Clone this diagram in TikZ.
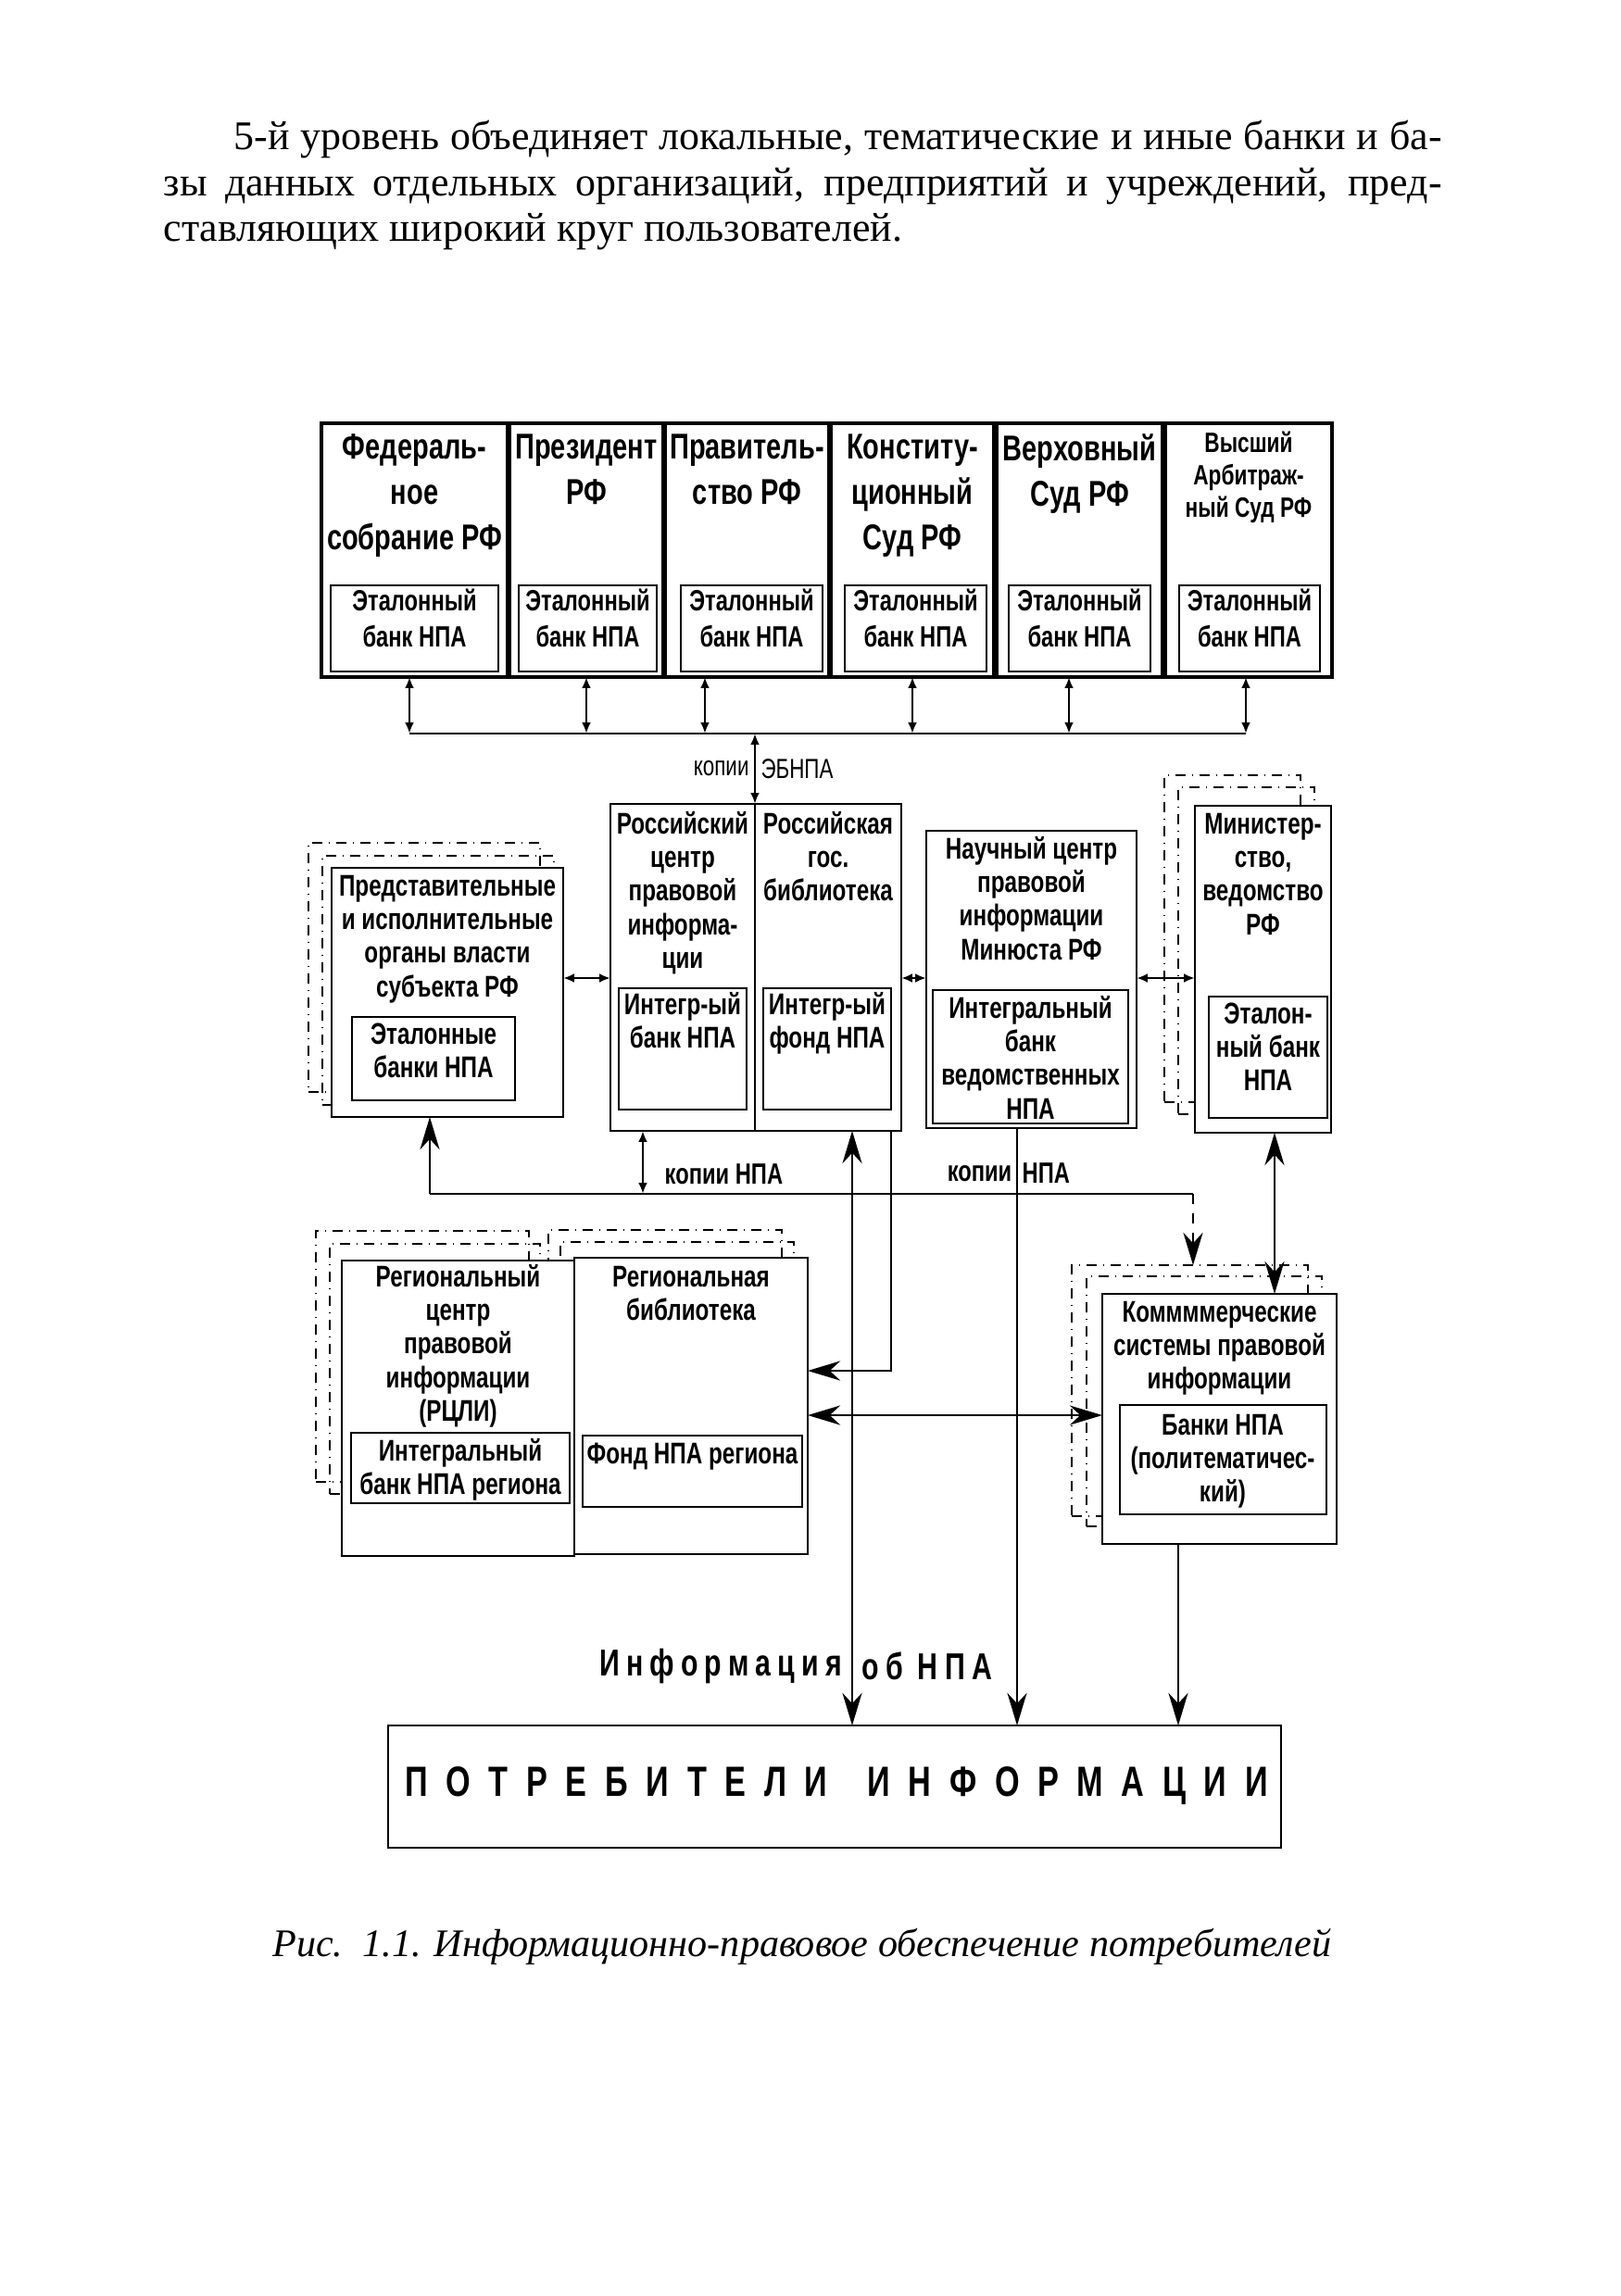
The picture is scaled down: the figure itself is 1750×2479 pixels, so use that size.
\documentclass[tikz,border=0pt]{standalone}
\usepackage{fontspec}
\setmainfont{Liberation Serif}
\newfontfamily\cnfont[FakeStretch=0.75]{Liberation Sans}
\usetikzlibrary{arrows.meta,fit}

\begin{document}
\begin{tikzpicture}[x=0.1mm, y=-0.1mm, >={Latex[length=3.4pt,width=2.8pt]},
  box/.style={draw, line width=0.8pt, fill=white, inner sep=0pt, outer sep=0pt},
  topbox/.style={box, line width=1.1pt},
  shad/.style={draw, line width=0.4pt, dash dot, inner sep=0pt, outer sep=0pt},
  ttl/.style={anchor=north, align=center, inner sep=0pt, font=\cnfont\bfseries\fontsize{11}{13.9}\selectfont},
  ttls/.style={ttl, font=\cnfont\bfseries\fontsize{8.6}{10}\selectfont},
  itxt/.style={ttl, font=\cnfont\bfseries\fontsize{9}{11}\selectfont},
  mtxt/.style={ttl, font=\cnfont\bfseries\fontsize{9.2}{10.3}\selectfont},
  lab/.style={inner sep=1.5pt, font=\cnfont\fontsize{8.5}{10}\selectfont},
  labb/.style={inner sep=0pt, font=\cnfont\bfseries\fontsize{9}{10}\selectfont},
  info/.style={inner sep=0pt, font=\cnfont\bfseries\fontsize{11.5}{13}\selectfont\addfontfeature{LetterSpace=18}},
  body/.style={inner sep=0pt, font=\fontsize{12.5}{14}\selectfont},
  conn/.style={line width=0.7pt},
  big/.style={-{Stealth[length=10pt,width=6pt]}},
  bigboth/.style={{Stealth[length=10pt,width=6pt]}-{Stealth[length=10pt,width=6pt]}}
]
\useasboundingbox (0,0) rectangle (1750,2479);

% Text above the figure
\node[body, anchor=base west] (par1) at (252,161) {\makebox[130.4mm][s]{5-й уровень объединяет локальные, тематические и иные банки и ба-}};
\node[body, anchor=base west] (par2) at (176,211) {\makebox[138mm][s]{зы данных отдельных организаций, предприятий и учреждений, пред-}};
\node[body, anchor=base west] (par3) at (176,260) {ставляющих широкий круг пользователей.};

% Top row: federal bodies
\node[topbox, fit={(347,457) (548,731)}] (fs) {};
\node[topbox, fit={(550,457) (716,731)}] (pr) {};
\node[topbox, fit={(718,457) (895,731)}] (gv) {};
\node[topbox, fit={(897,457) (1073,731)}] (ks) {};
\node[topbox, fit={(1076,457) (1255,731)}] (vs) {};
\node[topbox, fit={(1258,457) (1438,731)}] (as) {};
\node[ttl] (fs-t) at (447.5,461) {\strut Федераль-\\ное\\собрание РФ};
\node[ttl] (pr-t) at (633,461) {\strut Президент\\РФ};
\node[ttl] (gv-t) at (806.5,461) {\strut Правитель-\\ство РФ};
\node[ttl] (ks-t) at (985,461) {\strut Конститу-\\ционный\\Суд РФ};
\node[ttl] (vs-t) at (1165.5,463) {\strut Верховный\\Суд РФ};
\node[ttls] (as-t) at (1348,463) {\strut Высший\\Арбитраж-\\ный Суд РФ};

% reference banks of the top row
\node[box, fit={(357,632) (538,725)}] (fs-b) {};
\node[box, fit={(560,632) (709,725)}] (pr-b) {};
\node[box, fit={(735,632) (888,725)}] (gv-b) {};
\node[box, fit={(912,632) (1065,725)}] (ks-b) {};
\node[box, fit={(1089,632) (1242,725)}] (vs-b) {};
\node[box, fit={(1273,632) (1425,725)}] (as-b) {};
\foreach \b in {fs-b,pr-b,gv-b,ks-b,vs-b,as-b}
  \node[itxt] (\b-t) at (\b.north) {\strut Эталонный\\банк НПА};

% Bus of the top row
\coordinate (busL) at (442,792);
\coordinate (busR) at (1345,792);
\draw[conn] (busL) -- (busR);
\draw[conn,<->] (busL |- fs.south) -- (busL);
\draw[conn,<->] (pr.south) -- (pr.south |- busL);
\draw[conn,<->] (761,0 |- gv.south) -- (761,0 |- busL);
\draw[conn,<->] (ks.south) -- (ks.south |- busL);
\draw[conn,<->] (1154,0 |- vs.south) -- (1154,0 |- busL);
\draw[conn,<->] (busR |- as.south) -- (busR);

% Middle row
\node[shad, fit={(333,910) (583,1179)}] (pred-f1) {};
\node[shad, fit={(348,924) (598,1193)}] (pred-f2) {};
\node[box, fit={(358,937) (608,1206)}] (pred) {};
\node[box, fit={(380,1098) (556,1188)}] (pred-b) {};
\node[mtxt] (pred-t) at (483,941.5) {\strut Представительные\\и исполнительные\\органы власти\\субъекта РФ};
\node[mtxt] (pred-bt) at (468,1101.5) {\strut Эталонные\\банки НПА};

\node[box, fit={(659,868) (815,1221)}] (rc) {};
\node[box, fit={(815,868) (973,1221)}] (rg) {};
\node[box, fit={(668,1067) (806,1198)}] (rc-b) {};
\node[box, fit={(824,1067) (962,1198)}] (rg-b) {};
\node[mtxt] (rc-t) at (737,874.5) {\strut Российский\\центр\\правовой\\информа-\\ции};
\node[mtxt] (rg-t) at (894,874.5) {\strut Российская\\гос.\\библиотека};
\node[mtxt] (rc-bt) at (737,1069.5) {\strut Интегр-ый\\банк НПА};
\node[mtxt] (rg-bt) at (893,1069.5) {\strut Интегр-ый\\фонд НПА};

\node[box, fit={(1000,897) (1227,1218)}] (nc) {};
\node[box, fit={(1007,1069) (1218,1213)}] (nc-b) {};
\node[mtxt] (nc-t) at (1113.5,901.5) {\strut Научный центр\\правовой\\информации\\Минюста РФ};
\node[mtxt] (nc-bt) at (1112.5,1073.5) {\strut Интегральный\\банк\\ведомственных\\НПА};

\node[shad, fit={(1257,837) (1404,1190)}] (mn-f1) {};
\node[shad, fit={(1272,850) (1419,1203)}] (mn-f2) {};
\node[box, fit={(1290,870) (1437,1223)}] (mn) {};
\node[box, fit={(1305,1076) (1433,1207)}] (mn-b) {};
\node[mtxt] (mn-t) at (1363.5,874.5) {\strut Министер-\\ство,\\ведомство\\РФ};
\node[mtxt] (mn-bt) at (1369,1079.5) {\strut Эталон-\\ный банк\\НПА};

% copies of the reference banks
\draw[conn,<->] (rc.north east) -- (rc.north east |- busL)
  node[midway, left, lab] {копии} node[midway, right, lab] {ЭБНПА};
\draw[conn,<->] (pred.east |- 0,1056) -- (rc.west |- 0,1056);
\draw[conn,<->] (rg.east |- 0,1056) -- (nc.west |- 0,1056);
\draw[conn,<->] (nc.east |- 0,1056) -- (mn.west |- 0,1056);

% Lower row
\node[shad, fit={(341,1329) (571,1600)}] (reg-f1) {};
\node[shad, fit={(356,1343) (583,1613)}] (reg-f2) {};
\node[shad, fit={(592,1328) (844,1600)}] (lib-f1) {};
\node[shad, fit={(605,1341) (857,1613)}] (lib-f2) {};
\node[box, fit={(369,1361) (620,1680)}] (reg) {};
\node[box, fit={(620,1358) (872,1678)}] (lib) {};
\node[box, fit={(379,1547) (615,1623)}] (reg-b) {};
\node[box, fit={(629,1550) (866,1627)}] (lib-b) {};
\node[mtxt] (reg-t) at (494.5,1363.5) {\strut Региональный\\центр\\правовой\\информации\\(РЦЛИ)};
\node[mtxt] (reg-bt) at (497,1551.5) {\strut Интегральный\\банк НПА региона};
\node[mtxt] (lib-t) at (746,1363.5) {\strut Региональная\\библиотека};
\node[mtxt] (lib-bt) at (747.5,1554.5) {\strut Фонд НПА региона};

\node[shad, fit={(1157,1366) (1412,1637)}] (km-f1) {};
\node[shad, fit={(1173,1378) (1427,1648)}] (km-f2) {};
\node[box, fit={(1190,1397) (1443,1667)}] (km) {};
\node[box, fit={(1209,1517) (1432,1635)}] (km-b) {};
\node[mtxt] (km-t) at (1316.5,1401.5) {\strut Коммммерческие\\системы правовой\\информации};
\node[mtxt] (km-bt) at (1320,1523.5) {\strut Банки НПА\\(политематичес-\\кий)};

% Consumers
\node[box, fit={(419,1863) (1383,1995)}] (cons) {};
\node[inner sep=0pt, font=\cnfont\bfseries\fontsize{13}{14}\selectfont\addfontfeature{LetterSpace=43}] (cons-t) at (903,1928) {ПОТРЕБИТЕЛИ\hspace{4pt} ИНФОРМАЦИИ};

% Bus of the copies of NPA
\coordinate (kpL) at (464,1289);
\coordinate (kpR) at (1288,1289);
\draw[conn] (kpL) -- (kpR);
\draw[conn,big] (kpL) -- (kpL |- pred.south);
\draw[conn,big,dashed] (kpR) -- (kpR |- km-f1.north);
\draw[conn,<->] (694,0 |- rc.south) -- (694,0 |- kpL);
\node[labb, anchor=west] (kp-l) at (717,1268) {копии НПА};

% Flows to the region and to the consumers
\draw[conn,bigboth] (920,0 |- rg.south) -- (920,0 |- cons.north);
\draw[conn,big] (962,0 |- rg.south) |- (lib.east |- 0,1480);
\draw[conn,bigboth] (lib.east |- 0,1528) -- (km.west |- 0,1528);
\draw[conn,big] (1098,0 |- nc.south) -- (1098,0 |- cons.north);
\node[labb, anchor=east] (kp-r1) at (1093,1267) {копии};
\node[labb, anchor=west] (kp-r2) at (1103,1267) {НПА};
\draw[conn,bigboth] (1376,0 |- mn.south) -- (1376,0 |- km.north);
\draw[conn,big] (1272,0 |- km.south) -- (1272,0 |- cons.north);
\node[info, anchor=east] (inf-l) at (910,1799) {Информация};
\node[info, anchor=west] (inf-r) at (930,1799) {об НПА};

% Caption
\node[inner sep=0pt, anchor=base, font=\itshape\fontsize{12}{14}\selectfont] (cap) at (866,2112) {Рис.\ \ 1.1. Информационно-правовое обеспечение потребителей};
\end{tikzpicture}
\end{document}
